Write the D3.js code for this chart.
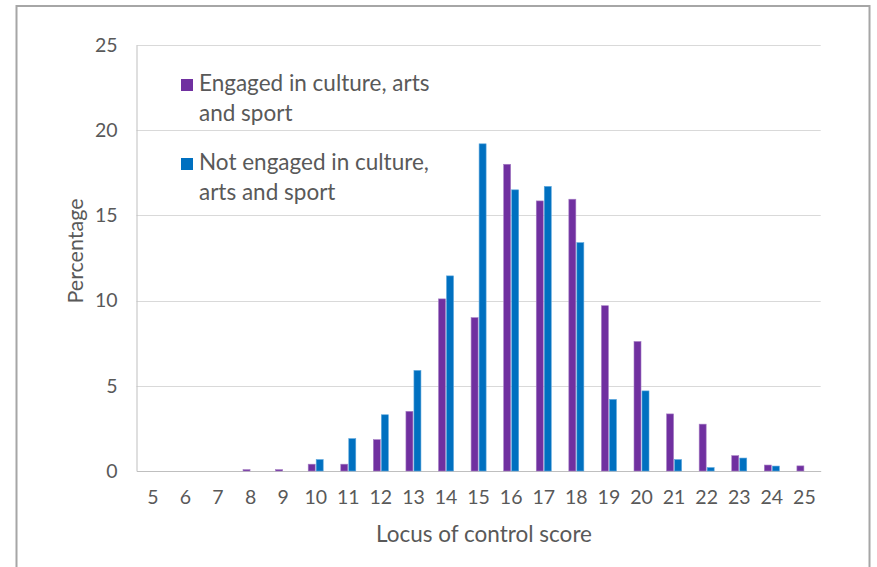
<!DOCTYPE html>
<html>
<head>
<meta charset="utf-8">
<script src="https://cdn.jsdelivr.net/npm/d3@7"></script>
<style>
  body { margin: 0; background: #fff; }
  text { font-family: Lato, "Open Sans", sans-serif; fill: #595959; }
</style>
</head>
<body>
<svg id="chart" width="877" height="567"></svg>
<script>
// locus of control scores on the x axis
const scores = ["5","6","7","8","9","10","11","12","13","14","15","16","17","18","19","20","21","22","23","24","25"];
const engaged = [0,0,0,0.08,0.08,0.4,0.4,1.84,3.5,10.1,9.0,18.0,15.85,15.95,9.7,7.6,3.35,2.75,0.9,0.35,0.3];
const notEngaged = [0,0,0,0,0,0.67,1.9,3.3,5.9,11.45,19.2,16.5,16.7,13.4,4.2,4.7,0.67,0.2,0.76,0.29,0];
const seriesNames = ["Engaged in culture, arts and sport", "Not engaged in culture, arts and sport"];
const yTicks = [0,5,10,15,20,25];

const colors = ["#7030a0", "#0070c0"];
const strokes = ["#a57dc4", "#5aa6dc"];

const svg = d3.select("#chart");

// outer frame
svg.append("rect")
  .attr("x", 16.5).attr("y", 6).attr("width", 853).attr("height", 600)
  .attr("fill", "none").attr("stroke", "#a6a6a6").attr("stroke-width", 2);

const plotLeft = 136.5, plotRight = 820.7, plotTop = 45, plotBottom = 471;

const x = d3.scaleBand().domain(scores).range([plotLeft, plotRight]).padding(0);
const keys = [0, 1];
const x1 = d3.scaleBand().domain(keys)
  .range([x.bandwidth() / 2 - 7.5, x.bandwidth() / 2 + 7.5])
  .paddingInner(1 / 8);
const y = d3.scaleLinear().domain([0, 25]).range([plotBottom, plotTop]);

// gridlines
svg.append("g")
  .selectAll("line")
  .data(yTicks.slice(1))
  .enter().append("line")
  .attr("x1", plotLeft).attr("x2", plotRight)
  .attr("y1", d => Math.round(y(d)) + 0.5).attr("y2", d => Math.round(y(d)) + 0.5)
  .attr("stroke", "#d9d9d9").attr("stroke-width", 1);

// y axis
const yAxis = svg.append("g")
  .attr("transform", `translate(${plotLeft},0)`)
  .call(d3.axisLeft(y).tickValues(yTicks).tickSize(0).tickPadding(19));
yAxis.select(".domain").attr("stroke", "#bfbfbf");
yAxis.selectAll("text").style("font-size", "19.5px").attr("fill", "#595959");

// x axis
const xAxis = svg.append("g")
  .attr("transform", `translate(0,${plotBottom})`)
  .call(d3.axisBottom(x).tickSize(0).tickPadding(19));
xAxis.select(".domain").attr("stroke", "#bfbfbf");
xAxis.selectAll("text").style("font-size", "19.5px").attr("fill", "#595959");

// bars
const table = scores.map((s, i) => ({ score: s, vals: [engaged[i], notEngaged[i]] }));
const groups = svg.append("g")
  .selectAll("g")
  .data(table)
  .enter().append("g")
  .attr("transform", d => `translate(${x(d.score)},0)`);

groups.selectAll("rect")
  .data(d => d.vals.map((v, k) => ({ k: k, v: v })))
  .enter().append("rect")
  .attr("x", d => x1(d.k))
  .attr("width", x1.bandwidth())
  .attr("y", d => y(d.v))
  .attr("height", d => plotBottom - y(d.v))
  .attr("fill", d => colors[d.k])
  .attr("stroke", d => d.v > 0 ? strokes[d.k] : "none")
  .attr("stroke-width", 0.6);

// axis titles
svg.append("text")
  .attr("x", 484).attr("y", 542)
  .attr("text-anchor", "middle")
  .style("font-size", "22.5px")
  .text("Locus of control score");

svg.append("text")
  .attr("transform", "translate(83,251) rotate(-90)")
  .attr("text-anchor", "middle")
  .style("font-size", "21.5px")
  .text("Percentage");

// legend
const legendLines = [
  ["Engaged in culture, arts", "and sport"],
  ["Not engaged in culture,", "arts and sport"]
];
const legend = svg.append("g");
[79, 158].forEach((ly, k) => {
  legend.append("rect")
    .attr("x", 181).attr("y", ly).attr("width", 12).attr("height", 12)
    .attr("fill", colors[k]);
  legendLines[k].forEach((line, j) => {
    legend.append("text")
      .attr("x", 199).attr("y", ly + 12 + j * 29.5)
      .style("font-size", "22.5px")
      .text(line);
  });
});
</script>
</body>
</html>
